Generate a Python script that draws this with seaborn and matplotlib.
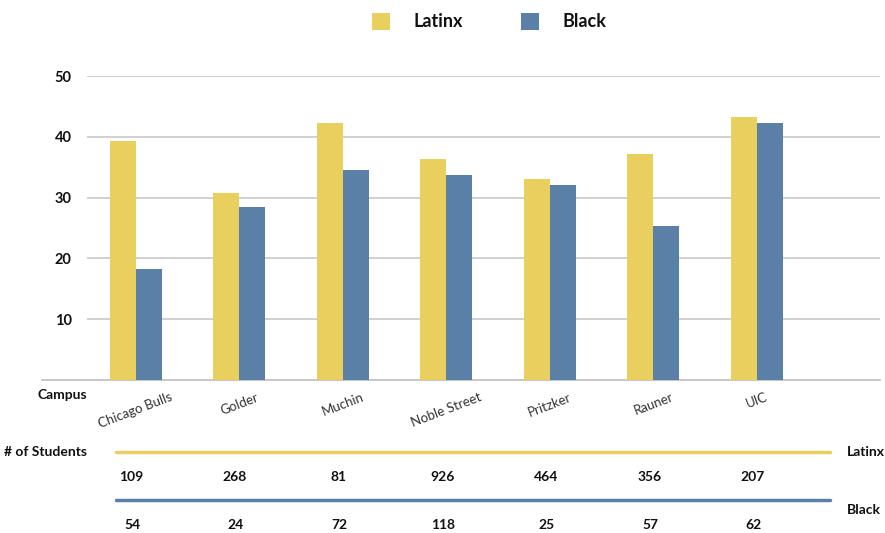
import matplotlib
matplotlib.use("Agg")
import matplotlib.pyplot as plt
import matplotlib.transforms as mtransforms
import seaborn as sns
import pandas as pd

campuses = ["Chicago Bulls", "Golder", "Muchin", "Noble Street", "Pritzker", "Rauner", "UIC"]
latinx_vals = [39.3, 30.8, 42.2, 36.3, 33.1, 37.2, 43.3]
black_vals = [18.3, 28.4, 34.6, 33.7, 32.0, 25.3, 42.2]
latinx_students = [109, 268, 81, 926, 464, 356, 207]
black_students = [54, 24, 72, 118, 25, 57, 62]
yticks = [10, 20, 30, 40, 50]

YELLOW = "#E8CF5E"
BLUE = "#5A80A8"

df = pd.DataFrame({
    "Campus": campuses * 2,
    "Value": latinx_vals + black_vals,
    "Group": ["Latinx"] * len(campuses) + ["Black"] * len(campuses),
})

sns.set_theme(style="white")
plt.rcParams["font.family"] = ["Lato", "DejaVu Sans"]

W, H = 885, 533
fig = plt.figure(figsize=(W / 100, H / 100), dpi=100)
ax = fig.add_axes([87 / W, (H - 380) / H, (880 - 87) / W, (380 - 76) / H])

sns.barplot(data=df, x="Campus", y="Value", hue="Group", order=campuses,
            hue_order=["Latinx", "Black"], palette=[YELLOW, BLUE],
            width=0.5, linewidth=0, saturation=1, ax=ax, errorbar=None)

ax.set_xlim(-0.47, 7.19)
ax.set_ylim(0, 50)
ax.set_yticks(yticks)
ax.set_yticklabels([str(t) for t in yticks], fontweight="bold", fontsize=10.5, color="#111111")
ax.tick_params(axis="y", length=0, pad=11)
ax.tick_params(axis="x", length=0, pad=8)
ax.set_xticks(range(len(campuses)))
ax.set_xticklabels(campuses, rotation=21, ha="center", fontsize=9.5, color="#333333")
ax.set_xlabel("")
ax.set_ylabel("")
ax.yaxis.grid(True, color="#c8c8c8", linewidth=1.2)
ax.set_axisbelow(True)
for s in ax.spines.values():
    s.set_visible(False)

# baseline extending left
ax.plot([(42 - 87) / (880 - 87), 1], [0, 0], transform=ax.transAxes,
        color="#c8c8c8", linewidth=1.5, clip_on=False, zorder=0)

# legend
sns.move_legend(ax, "upper center", bbox_to_anchor=(0.553, 1.0), bbox_transform=fig.transFigure,
                ncol=2, frameon=False, title=None, handlelength=1.0, handleheight=1.1,
                handletextpad=1.3, columnspacing=3.2, borderaxespad=0.3,
                prop={"weight": "bold", "size": 13})
leg = ax.get_legend()
for t in leg.get_texts():
    t.set_color("#111111")

# labels
fig.text(87 / W, 1 - 395 / H, "Campus", ha="right", va="center", fontsize=10,
         fontweight="bold", color="#111111")
fig.text(87 / W, 1 - 452 / H, "# of Students", ha="right", va="center", fontsize=10,
         fontweight="bold", color="#111111")
fig.text(847 / W, 1 - 452 / H, "Latinx", ha="left", va="center", fontsize=10,
         fontweight="bold", color="#111111")
fig.text(847 / W, 1 - 510 / H, "Black", ha="left", va="center", fontsize=10,
         fontweight="bold", color="#111111")

# table lines
fig.add_artist(plt.Line2D([116 / W, 830 / W], [1 - 452 / H, 1 - 452 / H], color=YELLOW, linewidth=2.5))
fig.add_artist(plt.Line2D([116 / W, 830 / W], [1 - 500 / H, 1 - 500 / H], color=BLUE, linewidth=2.5))

trans = mtransforms.blended_transform_factory(ax.transData, fig.transFigure)
for i, (a, b) in enumerate(zip(latinx_students, black_students)):
    ax.text(i - 0.04, 1 - 477 / H, str(a), transform=trans, ha="center", va="center",
            fontsize=10, fontweight="bold", color="#111111")
    ax.text(i - 0.03, 1 - 525 / H, str(b), transform=trans, ha="center", va="center",
            fontsize=10, fontweight="bold", color="#111111")

fig.savefig("out.png", dpi=100)
